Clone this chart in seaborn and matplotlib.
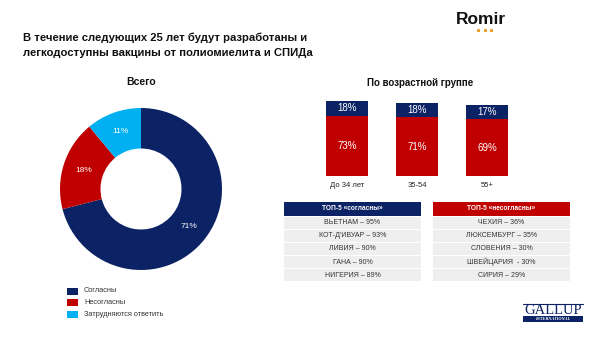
import matplotlib
matplotlib.use("Agg")
import matplotlib.pyplot as plt
import seaborn as sns
import pandas as pd
from matplotlib.patches import Rectangle

# ---------------- data ----------------
title_lines = ["В течение следующих 25 лет будут разработаны и",
               "легкодоступны вакцины от полиомиелита и СПИДа"]
donut_labels = ["Согласны", "Несогласны", "Затрудняются ответить"]
donut_values = [71, 18, 11]
age_groups = ["До 34 лет", "35-54", "55+"]
bar_top = [18, 18, 17]      # navy segment
bar_bottom = [73, 71, 69]   # red segment
agree_header = "ТОП-5 «согласны»"
agree_rows = ["ВЬЕТНАМ – 95%", "КОТ-Д'ИВУАР – 93%", "ЛИВИЯ – 90%",
              "ГАНА – 90%", "НИГЕРИЯ – 89%"]
disagree_header = "ТОП-5 «несогласны»"
disagree_rows = ["ЧЕХИЯ – 36%", "ЛЮКСЕМБУРГ – 35%", "СЛОВЕНИЯ – 30%",
                 "ШВЕЙЦАРИЯ  - 30%", "СИРИЯ – 29%"]

NAVY = "#0b2265"
RED = "#c00000"
CYAN = "#00b0f0"
colors = [NAVY, RED, CYAN]

sns.set_theme(style="white")
plt.rcParams["font.family"] = ["Liberation Sans", "DejaVu Sans"]

W, H = 602, 338
fig = plt.figure(figsize=(W / 100, H / 100), dpi=100)
fig.patch.set_facecolor("white")


def box(x0, y0, x1, y1):
    return [x0 / W, 1 - y1 / H, (x1 - x0) / W, (y1 - y0) / H]


# overlay axes in pixel coordinates
ov = fig.add_axes([0, 0, 1, 1])
ov.set_xlim(0, W)
ov.set_ylim(H, 0)
ov.axis("off")

# title
for i, line in enumerate(title_lines):
    ov.text(23, 38 + i * 14.5, line, fontsize=8.1, fontweight="bold",
            color="#111111", va="center", ha="left")

# Romir logo
ov.text(481, 19, "Romir", fontsize=12.5, fontweight="bold", color="#111111",
        ha="center", va="center")
for dx in (478.5, 485, 491.5):
    ov.add_patch(Rectangle((dx - 1.5, 29), 3, 3, color="#f0a030", lw=0))

# section titles
ov.text(141, 82, "Всего", fontsize=7.5, fontweight="bold", color="#111111",
        ha="center", va="center")
ov.text(420, 83, "По возрастной группе", fontsize=7, fontweight="bold",
        color="#111111", ha="center", va="center")

# ---------------- donut ----------------
axd = fig.add_axes(box(60, 108, 222, 270))
wedges, _, autotexts = axd.pie(
    donut_values, colors=colors, startangle=90, counterclock=False,
    radius=1, autopct="%d%%", pctdistance=0.75,
    wedgeprops=dict(width=0.5, linewidth=0),
    textprops=dict(color="white", fontsize=6))
axd.set_xlim(-1, 1)
axd.set_ylim(-1, 1)
axd.set_aspect("equal")

# legend
for i, (lab, c) in enumerate(zip(donut_labels, colors)):
    y = 291 + i * 11.7
    ov.add_patch(Rectangle((67, y - 3.5), 11, 7, color=c, lw=0))
    ov.text(84, y, lab, fontsize=5.3, color="#333333", va="center", ha="left")

# ---------------- stacked bars ----------------
df = pd.DataFrame({"group": age_groups, "top": bar_top, "bottom": bar_bottom})
df["total"] = df["top"] + df["bottom"]
axb = fig.add_axes(box(312, 176 - 82.4, 522, 176))
sns.barplot(data=df, x="group", y="total", color=NAVY, saturation=1,
            width=0.6, linewidth=0, ax=axb)
sns.barplot(data=df, x="group", y="bottom", color=RED, saturation=1,
            width=0.6, linewidth=0, ax=axb)
axb.set_xlim(-0.5, 2.5)
axb.set_ylim(0, 100)
axb.set_xlabel("")
axb.set_ylabel("")
axb.set_yticks([])
axb.tick_params(axis="x", length=0, labelsize=5.5, colors="#222222", pad=4)
for s in axb.spines.values():
    s.set_visible(False)
axb.patch.set_alpha(0)
for i, (t, b) in enumerate(zip(bar_top, bar_bottom)):
    axb.text(i, b / 2, f"{b}%", color="white", fontsize=7, ha="center", va="center")
    axb.text(i, b + t / 2, f"{t}%", color="white", fontsize=7, ha="center", va="center")

# ---------------- tables ----------------
def draw_table(x0, x1, header, rows, hcolor):
    ov.add_patch(Rectangle((x0, 202), x1 - x0, 14, color=hcolor, lw=0))
    ov.text((x0 + x1) / 2, 209, header, fontsize=4.8, fontweight="bold",
            color="white", ha="center", va="center")
    for i, r in enumerate(rows):
        y = 216.5 + i * 13.1
        ov.add_patch(Rectangle((x0, y), x1 - x0, 12.1, color="#efefef", lw=0))
        ov.text((x0 + x1) / 2, y + 6.2, r, fontsize=5, color="#333333",
                ha="center", va="center")


draw_table(284, 421, agree_header, agree_rows, NAVY)
draw_table(433, 570, disagree_header, disagree_rows, RED)

# Gallup logo
ov.plot([523, 583], [303.5, 303.5], color=NAVY, lw=0.8)
ov.text(553, 310, "GALLUP", fontsize=10.5, family=["Liberation Serif"],
        color=NAVY, ha="center", va="center")
ov.add_patch(Rectangle((523, 316), 60, 6, color=NAVY, lw=0))
ov.text(553, 319.2, "INTERNATIONAL", fontsize=3.2, family=["Liberation Serif"],
        fontstyle="italic", fontweight="bold", color="white",
        ha="center", va="center")

fig.savefig("out.png", dpi=100, facecolor="white")
